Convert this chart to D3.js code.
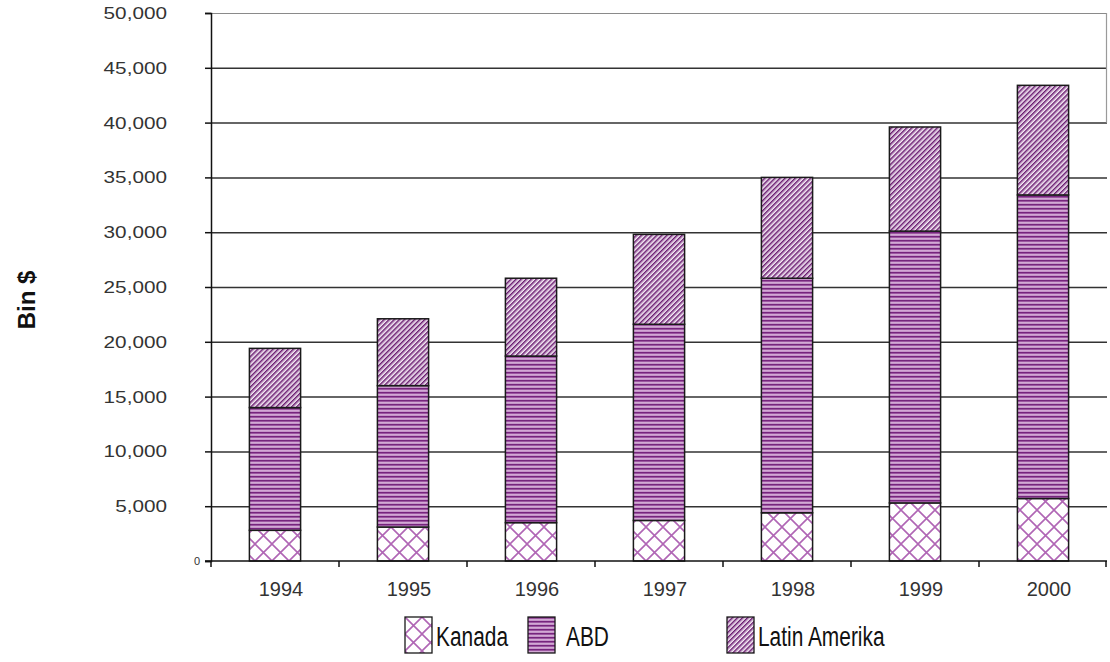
<!DOCTYPE html>
<html>
<head>
<meta charset="utf-8">
<script src="https://cdn.jsdelivr.net/npm/d3@7"></script>
<style>
  html, body { margin: 0; padding: 0; background: #fff; }
  svg { display: block; font-family: "Liberation Sans", Arial, sans-serif; }
</style>
</head>
<body>
<svg id="chart" width="1110" height="662"></svg>
<script>
// Stacked exports by region, thousands of dollars
const years = ["1994", "1995", "1996", "1997", "1998", "1999", "2000"];
const kanada = [2800, 3100, 3500, 3700, 4400, 5300, 5700];
const abd = [11200, 12900, 15200, 17900, 21400, 24800, 27700];
const latinAmerika = [5400, 6100, 7100, 8200, 9200, 9500, 10000];
const seriesNames = ["Kanada", "ABD", "Latin Amerika"];
const yTicks = [0, 5000, 10000, 15000, 20000, 25000, 30000, 35000, 40000, 45000, 50000];

const svg = d3.select("#chart");
const plotLeft = 211, plotRight = 1107, plotTop = 13, plotBottom = 561;

const x = d3.scaleBand().domain(years).range([plotLeft, plotRight])
  .paddingInner(0.6).paddingOuter(0.3);
const y = d3.scaleLinear().domain([0, 50000]).range([plotBottom, plotTop]);

// Fill patterns
const defs = svg.append("defs");

const cross = defs.append("pattern").attr("id", "pat-kanada")
  .attr("patternUnits", "userSpaceOnUse").attr("width", 17).attr("height", 17);
cross.append("rect").attr("width", 17).attr("height", 17).attr("fill", "#ffffff");
cross.append("path").attr("d", "M0,0L17,17M17,0L0,17M-1,16L1,18M16,-1L18,1")
  .attr("stroke", "#b066b5").attr("stroke-width", 1.6).attr("fill", "none");

const horiz = defs.append("pattern").attr("id", "pat-abd")
  .attr("patternUnits", "userSpaceOnUse").attr("width", 8).attr("height", 4);
horiz.append("rect").attr("width", 8).attr("height", 4).attr("fill", "#ad6bb1");
horiz.append("rect").attr("y", 0).attr("width", 8).attr("height", 1.3).attr("fill", "#76247d");
horiz.append("rect").attr("y", 2.4).attr("width", 8).attr("height", 1).attr("fill", "#ead2ec");

const diag = defs.append("pattern").attr("id", "pat-latin")
  .attr("patternUnits", "userSpaceOnUse").attr("width", 3.6).attr("height", 10)
  .attr("patternTransform", "rotate(45)");
diag.append("rect").attr("width", 3.6).attr("height", 10).attr("fill", "#f6ecf6");
diag.append("rect").attr("x", 0).attr("width", 1.5).attr("height", 10).attr("fill", "#6a1c71");
diag.append("rect").attr("x", 1.5).attr("width", 0.8).attr("height", 10).attr("fill", "#b286b6");

const fills = ["url(#pat-kanada)", "url(#pat-abd)", "url(#pat-latin)"];

// Gridlines
const grid = svg.append("g").attr("transform", `translate(${plotLeft},0)`)
  .call(d3.axisLeft(y).tickValues(yTicks.slice(1)).tickSize(-(plotRight - plotLeft)).tickFormat(""));
grid.select(".domain").remove();
grid.selectAll(".tick line")
  .attr("stroke", d => d === 50000 ? "#8a8a8a" : "#333")
  .attr("stroke-width", d => d === 50000 ? 1.2 : 1.5);

// Right border
svg.append("line").attr("x1", plotRight - 0.5).attr("x2", plotRight - 0.5)
  .attr("y1", y(50000)).attr("y2", y(40000))
  .attr("stroke", "#9a9a9a").attr("stroke-width", 1.2);

// Stacked bars
const rows = years.map((yr, i) => ({ year: yr, Kanada: kanada[i], ABD: abd[i], "Latin Amerika": latinAmerika[i] }));
const stacked = d3.stack().keys(seriesNames)(rows);

svg.append("g").selectAll("g").data(stacked).join("g")
  .attr("fill", (d, i) => fills[i])
  .selectAll("rect").data(d => d).join("rect")
  .attr("x", d => x(d.data.year))
  .attr("width", x.bandwidth())
  .attr("y", d => y(d[1]))
  .attr("height", d => y(d[0]) - y(d[1]))
  .attr("stroke", "#1a1a1a").attr("stroke-width", 1.5);

// Y axis
const yAxis = svg.append("g").attr("transform", `translate(${plotLeft},0)`)
  .call(d3.axisLeft(y).tickValues(yTicks).tickSize(6).tickPadding(0)
    .tickFormat(d3.format(",")));
yAxis.select(".domain").attr("stroke", "#111").attr("stroke-width", 1.5);
yAxis.selectAll(".tick line").attr("stroke", "#111").attr("stroke-width", 1.5);
yAxis.selectAll(".tick text")
  .attr("fill", "#333")
  .style("font-size", d => d === 0 ? "11px" : "17px")
  .attr("x", d => d === 0 ? -11 : -44 / 1.22)
  .attr("transform", d => d === 0 ? null : "scale(1.22,1)");

// X axis with boundary ticks
const xAxis = svg.append("g").attr("transform", `translate(0,${plotBottom})`);
xAxis.append("line").attr("x1", plotLeft - 6).attr("x2", plotRight)
  .attr("stroke", "#111").attr("stroke-width", 1.5);
const bounds = years.map(d => x(d) - x.step() * 0.3).concat([plotRight - 1]);
xAxis.selectAll("line.tk").data(bounds).join("line").attr("class", "tk")
  .attr("x1", d => d).attr("x2", d => d).attr("y1", 0).attr("y2", 6)
  .attr("stroke", "#111").attr("stroke-width", 1.5);
xAxis.selectAll("text").data(years).join("text")
  .attr("x", d => x(d) + x.bandwidth() / 2 + 6)
  .attr("y", 35)
  .attr("text-anchor", "middle")
  .attr("fill", "#333")
  .style("font-size", "20px")
  .text(d => d);

// Y title
svg.append("text")
  .attr("transform", "translate(35,300) rotate(-90)")
  .attr("text-anchor", "middle")
  .style("font-size", "24px").style("font-weight", "bold")
  .attr("fill", "#111")
  .text("Bin $");

// Legend
const legendX = [405, 528, 727];
const legend = svg.append("g").selectAll("g").data(seriesNames).join("g")
  .attr("transform", (d, i) => `translate(${legendX[i]},617)`);
legend.append("rect").attr("width", 27).attr("height", 36)
  .attr("fill", (d, i) => fills[i]).attr("stroke", "#1a1a1a").attr("stroke-width", 1.3);
legend.append("text")
  .attr("transform", (d, i) => `translate(${i === 1 ? 38 : 31},29) scale(0.95,1.25)`)
  .style("font-size", "22px").attr("fill", "#111")
  .text(d => d);
</script>
</body>
</html>
